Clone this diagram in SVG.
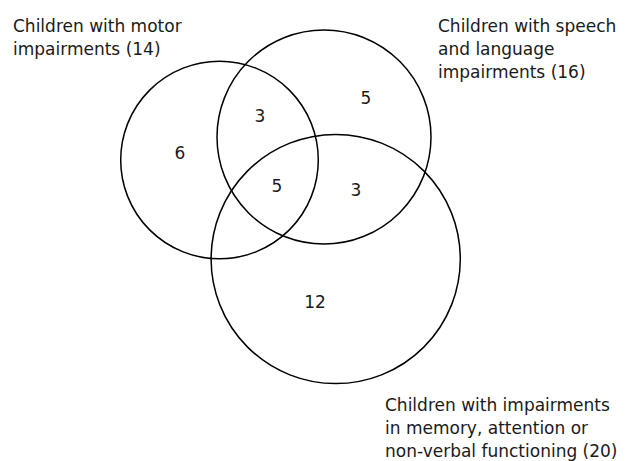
<svg xmlns="http://www.w3.org/2000/svg" width="625" height="461" viewBox="0 0 625 461">
<style>
text{font-family:"DejaVu Sans","Liberation Sans",sans-serif;font-size:17px;fill:#1a1a1a}
.n{text-anchor:middle}
circle{fill:none;stroke:#000;stroke-width:1.5}
</style>
<rect width="625" height="461" fill="#fff"/>
<g id="motor">
<circle cx="219.5" cy="160" r="98.8"/>
<text x="13" y="32">Children with motor</text>
<text x="13" y="55">impairments (14)</text>
</g>
<g id="speech">
<circle cx="324" cy="137" r="107"/>
<text x="438" y="32">Children with speech</text>
<text x="438" y="55">and language</text>
<text x="438" y="78">impairments (16)</text>
</g>
<g id="memory">
<circle cx="335.7" cy="259" r="124.6"/>
<text x="385" y="411">Children with impairments</text>
<text x="385" y="434">in memory, attention or</text>
<text x="385" y="457">non-verbal functioning (20)</text>
</g>
<g id="counts">
<text class="n" x="180" y="159">6</text>
<text class="n" x="260" y="122">3</text>
<text class="n" x="366" y="104">5</text>
<text class="n" x="277" y="192">5</text>
<text class="n" x="356" y="196">3</text>
<text class="n" x="315" y="308">12</text>
</g>
</svg>
